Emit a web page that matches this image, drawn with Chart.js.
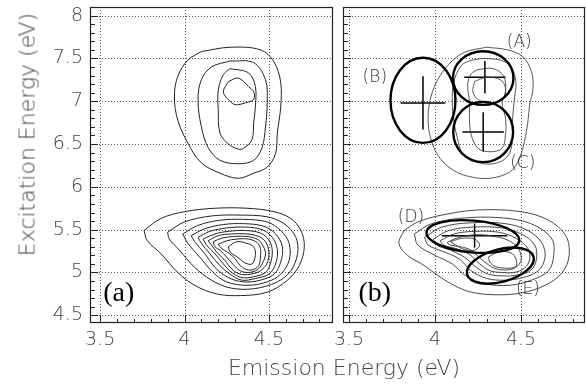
<!DOCTYPE html>
<html>
<head>
<meta charset="utf-8">
<script src="https://cdn.jsdelivr.net/npm/chart.js@4"></script>
<style>
  html, body { margin: 0; padding: 0; background: #fff; width: 586px; height: 384px; overflow: hidden; }
  .panel { position: absolute; top: 0; }
  #chartA { left: 0; }
  #chartB { left: 300px; }
  .axis-title { position: absolute; font-family: "DejaVu Sans", sans-serif; font-weight: 200; font-size: 22px; color: #444; white-space: nowrap; text-align: center; }
  #xTitle { left: 194px; width: 300px; top: 355px; }
  #yTitle { left: -123px; width: 300px; top: 122px; transform: rotate(-90deg); }
</style>
</head>
<body>
<canvas id="chartA" class="panel" width="336" height="384"></canvas>
<canvas id="chartB" class="panel" width="286" height="384"></canvas>
<div id="xTitle" class="axis-title">Emission Energy (eV)</div>
<div id="yTitle" class="axis-title">Excitation Energy (eV)</div>
<script>
// axis ticks
const xTicks = [3.5, 4, 4.5];
const yTicks = [4.5, 5, 5.5, 6, 6.5, 7, 7.5, 8];

// (a) measured map, upper band contours (outer -> inner), [emission, excitation]
const aUpper = [
  [[4.10,7.58],[4.27,7.63],[4.45,7.60],[4.53,7.46],[4.57,7.22],[4.57,6.93],[4.55,6.63],[4.54,6.39],[4.49,6.23],[4.41,6.16],[4.32,6.10],[4.21,6.16],[4.10,6.28],[4.02,6.51],[3.96,6.78],[3.94,7.05],[3.96,7.29],[4.02,7.48]],
  [[4.27,7.47],[4.41,7.45],[4.48,7.25],[4.49,6.98],[4.48,6.70],[4.46,6.46],[4.41,6.31],[4.32,6.27],[4.21,6.31],[4.14,6.46],[4.10,6.70],[4.08,7.02],[4.10,7.25],[4.16,7.40]],
  [[4.27,7.38],[4.38,7.33],[4.42,7.17],[4.42,6.93],[4.41,6.75],[4.40,6.55],[4.35,6.45],[4.32,6.44],[4.26,6.50],[4.21,6.63],[4.20,6.90],[4.20,7.13],[4.23,7.31]],
  [[4.26,7.23],[4.32,7.27],[4.38,7.17],[4.41,7.11],[4.41,7.02],[4.36,6.98],[4.30,6.96],[4.26,7.02],[4.23,7.11]]
];

// (a) lower band contours
const aLower = [
  [[3.76,5.49],[3.86,5.63],[4.00,5.71],[4.18,5.75],[4.37,5.75],[4.53,5.71],[4.63,5.63],[4.69,5.49],[4.71,5.30],[4.68,5.08],[4.61,4.91],[4.49,4.77],[4.33,4.73],[4.19,4.75],[4.06,4.85],[3.96,5.00],[3.86,5.22],[3.78,5.37]],
  [[3.90,5.47],[4.00,5.59],[4.16,5.66],[4.33,5.67],[4.49,5.65],[4.59,5.57],[4.66,5.41],[4.67,5.22],[4.63,5.02],[4.55,4.89],[4.41,4.81],[4.27,4.82],[4.16,4.91],[4.06,5.06],[3.97,5.26],[3.91,5.39]],
  [[3.99,5.45],[4.08,5.55],[4.21,5.61],[4.35,5.62],[4.49,5.59],[4.57,5.49],[4.62,5.34],[4.62,5.14],[4.57,4.98],[4.49,4.89],[4.37,4.85],[4.25,4.89],[4.17,5.00],[4.09,5.18],[4.02,5.34]],
  [[4.04,5.43],[4.12,5.51],[4.23,5.56],[4.35,5.57],[4.47,5.54],[4.54,5.45],[4.58,5.30],[4.57,5.12],[4.53,4.98],[4.45,4.91],[4.35,4.89],[4.26,4.94],[4.18,5.06],[4.12,5.22],[4.06,5.36]],
  [[4.08,5.41],[4.15,5.48],[4.25,5.52],[4.36,5.53],[4.46,5.50],[4.52,5.41],[4.55,5.27],[4.54,5.10],[4.50,4.98],[4.42,4.93],[4.34,4.91],[4.27,4.98],[4.21,5.08],[4.15,5.22],[4.10,5.34]],
  [[4.11,5.39],[4.18,5.45],[4.26,5.48],[4.36,5.49],[4.45,5.46],[4.50,5.38],[4.52,5.26],[4.51,5.11],[4.48,5.00],[4.41,4.95],[4.34,4.94],[4.28,5.00],[4.23,5.10],[4.18,5.22],[4.13,5.32]],
  [[4.14,5.37],[4.20,5.43],[4.28,5.45],[4.37,5.45],[4.44,5.42],[4.48,5.36],[4.50,5.24],[4.49,5.11],[4.45,5.02],[4.39,4.98],[4.33,4.98],[4.28,5.04],[4.24,5.14],[4.19,5.24],[4.16,5.32]],
  [[4.17,5.36],[4.22,5.40],[4.29,5.42],[4.37,5.42],[4.43,5.39],[4.46,5.33],[4.48,5.22],[4.46,5.10],[4.43,5.03],[4.38,5.00],[4.33,5.02],[4.29,5.09],[4.25,5.18],[4.21,5.26],[4.18,5.30]],
  [[4.20,5.33],[4.25,5.37],[4.31,5.39],[4.38,5.39],[4.43,5.35],[4.45,5.28],[4.45,5.18],[4.44,5.08],[4.40,5.03],[4.36,5.04],[4.33,5.08],[4.30,5.16],[4.26,5.23],[4.22,5.28]],
  [[4.26,5.30],[4.31,5.36],[4.37,5.34],[4.41,5.30],[4.42,5.20],[4.40,5.10],[4.36,5.11],[4.32,5.17],[4.27,5.24]]
];

// (b) fitted map, upper band contours
const bUpper = [
  [[4.30,7.63],[4.42,7.60],[4.51,7.52],[4.56,7.35],[4.57,7.15],[4.55,6.96],[4.54,6.76],[4.52,6.53],[4.49,6.33],[4.44,6.18],[4.32,6.10],[4.20,6.12],[4.11,6.19],[4.03,6.33],[3.98,6.53],[3.96,6.76],[3.97,7.00],[4.01,7.23],[4.08,7.43],[4.17,7.57]],
  [[4.28,7.50],[4.38,7.48],[4.44,7.41],[4.47,7.23],[4.46,7.00],[4.45,6.76],[4.45,6.53],[4.42,6.35],[4.34,6.27],[4.24,6.29],[4.16,6.39],[4.13,6.57],[4.11,6.76],[4.10,7.00],[4.11,7.23],[4.15,7.41],[4.20,7.47]],
  [[4.25,7.37],[4.34,7.38],[4.40,7.29],[4.41,7.11],[4.39,6.98],[4.41,6.80],[4.41,6.61],[4.39,6.45],[4.32,6.41],[4.25,6.45],[4.21,6.61],[4.20,6.80],[4.20,7.00],[4.19,7.19],[4.21,7.32]],
  [[4.23,7.23],[4.30,7.28],[4.38,7.25],[4.41,7.15],[4.39,7.02],[4.32,6.98],[4.25,7.02],[4.22,7.11]]
];

// (b) lower band contours
const bLower = [
  [[3.82,5.49],[3.90,5.59],[4.04,5.67],[4.25,5.73],[4.50,5.71],[4.66,5.61],[4.76,5.43],[4.78,5.20],[4.74,5.00],[4.64,4.85],[4.50,4.76],[4.35,4.74],[4.21,4.77],[4.11,4.85],[4.02,4.96],[3.93,5.09],[3.84,5.20],[3.79,5.34]],
  [[3.88,5.45],[3.98,5.57],[4.19,5.64],[4.43,5.63],[4.58,5.55],[4.68,5.39],[4.69,5.20],[4.66,5.02],[4.56,4.91],[4.43,4.85],[4.29,4.87],[4.18,4.96],[4.10,5.10],[4.00,5.20],[3.90,5.32]],
  [[3.94,5.41],[4.04,5.53],[4.21,5.58],[4.41,5.57],[4.54,5.49],[4.62,5.35],[4.64,5.18],[4.60,5.02],[4.51,4.94],[4.41,4.91],[4.30,4.93],[4.21,5.02],[4.14,5.16],[4.04,5.25],[3.96,5.32]],
  [[3.99,5.39],[4.08,5.49],[4.22,5.53],[4.39,5.52],[4.51,5.44],[4.58,5.32],[4.59,5.16],[4.56,5.03],[4.48,4.97],[4.40,4.96],[4.31,4.98],[4.24,5.06],[4.17,5.18],[4.09,5.26],[4.01,5.32]],
  [[4.03,5.37],[4.11,5.45],[4.23,5.48],[4.37,5.47],[4.47,5.40],[4.54,5.28],[4.55,5.15],[4.52,5.05],[4.46,5.00],[4.39,5.00],[4.32,5.02],[4.26,5.10],[4.20,5.21],[4.12,5.28],[4.05,5.32]],
  [[4.07,5.35],[4.14,5.41],[4.24,5.44],[4.35,5.42],[4.44,5.36],[4.49,5.26],[4.50,5.14],[4.47,5.06],[4.42,5.03],[4.36,5.04],[4.31,5.09],[4.26,5.17],[4.21,5.26],[4.15,5.30],[4.09,5.32]],
  [[4.31,5.18],[4.37,5.24],[4.44,5.23],[4.47,5.16],[4.47,5.07],[4.41,5.05],[4.35,5.07],[4.32,5.12]],
  [[4.09,5.36],[4.16,5.40],[4.23,5.39],[4.26,5.32],[4.23,5.26],[4.17,5.27],[4.12,5.32]]
];

// fitted components (A)-(E): centre, half widths, tilt in degrees
const compNames = ['(A)', '(B)', '(C)', '(D)', '(E)'];
const compX = [4.28, 3.93, 4.28, 4.22, 4.38];
const compY = [7.27, 7.01, 6.64, 5.42, 5.08];
const compRx = [0.176, 0.189, 0.174, 0.271, 0.200];
const compRy = [0.313, 0.497, 0.352, 0.186, 0.190];
const compTilt = [0, 0, 0, 5, -15];

// crosses marking component peaks (A, B, C, D)
const crossX = [4.29, 3.93, 4.28, 4.23];
const crossY = [7.28, 6.98, 6.64, 5.43];
const crossDx = [0.12, 0.13, 0.12, 0.19];
const crossDy = [0.19, 0.31, 0.23, 0.14];

// label anchors
const compLabelX = [4.49, 3.65, 4.51, 3.86, 4.54];
const compLabelY = [7.68, 7.28, 6.27, 5.64, 4.80];

const tickFont = { family: '"DejaVu Sans", sans-serif', size: 19, weight: 200 };
const tickColor = '#444';

function ringDataset(ring, color, width) {
  const pts = ring.map(p => ({ x: p[0], y: p[1] }));
  pts.push(pts[0]);
  return { data: pts, borderColor: color, borderWidth: width, pointRadius: 0, showLine: true, tension: 0.35, fill: false };
}

function crossDatasets() {
  const out = [];
  crossX.forEach((cx, i) => {
    out.push({ data: [{ x: cx - crossDx[i], y: crossY[i] }, { x: cx + crossDx[i], y: crossY[i] }], borderColor: '#000', borderWidth: 1.5, pointRadius: 0, showLine: true });
    out.push({ data: [{ x: cx, y: crossY[i] - crossDy[i] }, { x: cx, y: crossY[i] + crossDy[i] }], borderColor: '#000', borderWidth: 1.5, pointRadius: 0, showLine: true });
  });
  return out;
}

const framePlugin = {
  id: 'frame',
  beforeDatasetsDraw(chart) {
    const { ctx, chartArea: a, scales: { x, y } } = chart;
    ctx.save();
    ctx.strokeStyle = '#555';
    ctx.lineWidth = 1;
    ctx.setLineDash([1, 2]);
    ctx.beginPath();
    xTicks.forEach(v => { const p = Math.round(x.getPixelForValue(v)) + 0.5; ctx.moveTo(p, a.top); ctx.lineTo(p, a.bottom); });
    yTicks.forEach(v => { const p = Math.round(y.getPixelForValue(v)) + 0.5; ctx.moveTo(a.left, p); ctx.lineTo(a.right, p); });
    ctx.stroke();
    ctx.restore();
  },
  afterDatasetsDraw(chart, args, opts) {
    const { ctx, chartArea: a, scales: { x, y } } = chart;
    ctx.save();
    // fitted component ellipses
    if (opts.ellipses) {
      ctx.strokeStyle = '#000';
      ctx.lineWidth = 2.4;
      compX.forEach((cx, i) => {
        const px = x.getPixelForValue(cx), py = y.getPixelForValue(compY[i]);
        const rx = Math.abs(x.getPixelForValue(cx + compRx[i]) - px);
        const ry = Math.abs(y.getPixelForValue(compY[i] + compRy[i]) - py);
        ctx.beginPath();
        ctx.ellipse(px, py, rx, ry, compTilt[i] * Math.PI / 180, 0, Math.PI * 2);
        ctx.stroke();
      });
    }
    // frame
    ctx.strokeStyle = '#222';
    ctx.lineWidth = 1.2;
    ctx.strokeRect(a.left + 0.5, a.top + 0.5, a.right - a.left - 1, a.bottom - a.top - 1);
    // inward ticks
    ctx.lineWidth = 1;
    ctx.beginPath();
    for (let v = 3.5; v <= x.max + 1e-6; v += 0.1) {
      const major = xTicks.some(t => Math.abs(t - v) < 1e-6);
      const p = Math.round(x.getPixelForValue(v)) + 0.5;
      ctx.moveTo(p, a.bottom); ctx.lineTo(p, a.bottom - (major ? 8 : 4));
    }
    for (let v = 4.5; v <= y.max + 1e-6; v += 0.1) {
      const major = yTicks.some(t => Math.abs(t - v) < 1e-6);
      const p = Math.round(y.getPixelForValue(v)) + 0.5;
      ctx.moveTo(a.left, p); ctx.lineTo(a.left + (major ? 8 : 5), p);
    }
    ctx.stroke();
    // labels
    ctx.textAlign = 'center';
    ctx.textBaseline = 'middle';
    if (opts.ellipses) {
      ctx.fillStyle = '#333';
      ctx.font = '200 17px "DejaVu Sans", sans-serif';
      compNames.forEach((n, i) => ctx.fillText(n, x.getPixelForValue(compLabelX[i]), y.getPixelForValue(compLabelY[i])));
    }
    ctx.fillStyle = '#000';
    ctx.font = '28px "Liberation Serif", serif';
    ctx.fillText(opts.tag, x.getPixelForValue(opts.tagX), y.getPixelForValue(4.75));
    ctx.restore();
  }
};

function createChart(canvasId, datasets, xr, yWidth, plug, padRight) {
  const ctx = document.getElementById(canvasId).getContext('2d');
  const showY = yWidth > 50;
  return new Chart(ctx, {
    type: 'scatter',
    data: { datasets: datasets },
    plugins: [framePlugin],
    options: {
      responsive: false,
      animation: false,
      layout: { padding: { top: 7, right: padRight, left: 0, bottom: 0 } },
      plugins: { legend: { display: false }, tooltip: { enabled: false }, frame: plug },
      scales: {
        x: {
          type: 'linear', min: xr[0], max: xr[1],
          afterBuildTicks: s => { s.ticks = xTicks.map(v => ({ value: v })); },
          afterFit: s => { s.height = 61; s.paddingLeft = 0; s.paddingRight = 0; },
          grid: { display: false, drawTicks: false },
          border: { display: false },
          ticks: { padding: 6, font: tickFont, color: tickColor, maxRotation: 0, autoSkip: false, callback: v => String(v) }
        },
        y: {
          type: 'linear', min: 4.41, max: 8.1,
          afterBuildTicks: s => { s.ticks = yTicks.map(v => ({ value: v })); },
          afterFit: s => { s.width = yWidth; s.paddingTop = 0; s.paddingBottom = 0; },
          grid: { display: false, drawTicks: false },
          border: { display: false },
          ticks: { display: showY, padding: 7, font: tickFont, color: tickColor, autoSkip: false, callback: v => String(v) }
        }
      }
    }
  });
}

const setA = [].concat(aUpper.map(r => ringDataset(r, '#222', 1)), aLower.map(r => ringDataset(r, '#222', 1)));
const setB = [].concat(bUpper.map(r => ringDataset(r, '#444', 0.9)), bLower.map(r => ringDataset(r, '#333', 0.9)), crossDatasets());

createChart('chartA', setA, [3.44, 4.88], 90, { tag: '(a)', tagX: 3.61, ellipses: false }, 3);
createChart('chartB', setB, [3.465, 4.872], 43, { tag: '(b)', tagX: 3.65, ellipses: true }, 1);
</script>
</body>
</html>
